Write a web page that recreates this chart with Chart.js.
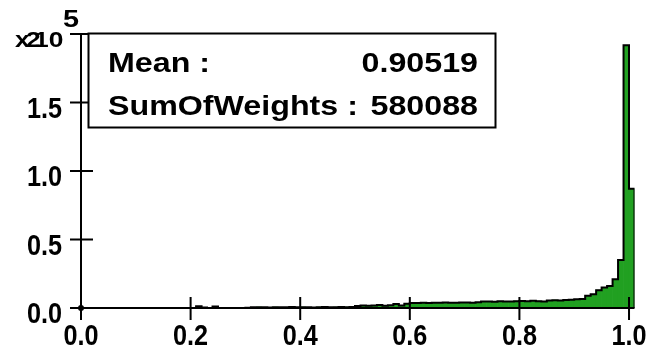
<!DOCTYPE html>
<html>
<head>
<meta charset="utf-8">
<title>Histogram</title>
<script src="https://cdn.jsdelivr.net/npm/chart.js@4.4.1/dist/chart.umd.min.js"></script>
<style>
  html, body { margin: 0; padding: 0; background: #fff; }
  canvas { display: block; }
</style>
</head>
<body>
<canvas id="hist" width="650" height="359"></canvas>
<script>
// binning: 101 bins of 0.01 starting at 0.00
const X_MIN = 0.0;
const X_MAX = 1.01;
const BIN_WIDTH = 0.01;

// bin contents, in bin order
const counts = [
  0, 0, 0, 0, 0, 0, 0, 0, 0, 0,
  0, 0, 0, 0, 0, 0, 0, 0, 0, 0,
  0, 1200, 300, 0, 1100, 0, 0, 0, 0, 0,
  200, 500, 600, 500, 400, 600, 500, 500, 700, 500,
  600, 500, 400, 600, 700, 500, 600, 700, 600, 800,
  1500, 1800, 1600, 1900, 2100, 1700, 2000, 2900, 1900, 3100,
  3700, 3600, 3800, 3700, 3900, 3800, 4000, 3900, 3800, 4100,
  4000, 3900, 4200, 4700, 4800, 4600, 4900, 4800, 4700, 5000,
  5100, 4900, 5300, 5000, 4800, 5400, 5700, 5500, 5900, 6100,
  6400, 6500, 9000, 10000, 13000, 15000, 16000, 21000, 35000, 191700,
  87000
];

const xTicks = [0.0, 0.2, 0.4, 0.6, 0.8, 1.0];
const yTicks = [0, 50000, 100000, 150000, 200000];
const Y_MAX = 200000;

const statLabels = ['Mean :', 'SumOfWeights :'];
const statValues = ['0.90519', '580088'];

const FILL = '#21a021';
const FONT = '"Liberation Sans", Arial, sans-serif';

// bars sit on bin centres, the outline steps at bin edges
const barData = counts.map((c, i) => ({ x: X_MIN + (i + 0.5) * BIN_WIDTH, y: c }));
const outline = counts.map((c, i) => ({ x: X_MIN + i * BIN_WIDTH, y: c }));
outline.push({ x: X_MAX, y: 0 });

// text squeezed or stretched sideways
function drawText(ctx, str, x, y, align, sx) {
  ctx.save();
  ctx.translate(x, y);
  ctx.scale(sx, 1);
  ctx.textAlign = align;
  ctx.fillText(str, 0, 0);
  ctx.restore();
}

// ROOT-style frame: ticks cross the axis lines, labels drawn by hand
const axesPlugin = {
  id: 'axes',
  afterDatasetsDraw(chart) {
    const { ctx, chartArea, scales: { x, y } } = chart;
    const x0 = x.getPixelForValue(X_MIN);
    const y0 = y.getPixelForValue(0);
    ctx.save();
    ctx.strokeStyle = '#000';
    ctx.lineWidth = 2;
    ctx.beginPath();
    ctx.moveTo(x0, chartArea.top);
    ctx.lineTo(x0, y0 + 12);
    ctx.moveTo(x0, y0);
    ctx.lineTo(chartArea.right, y0);
    yTicks.forEach(v => {
      const py = y.getPixelForValue(v);
      ctx.moveTo(x0 - 11, py);
      ctx.lineTo(x0 + 12, py);
    });
    xTicks.forEach(v => {
      if (v === X_MIN) return;
      const px = x.getPixelForValue(v);
      ctx.moveTo(px, y0 - 11);
      ctx.lineTo(px, y0 + 12);
    });
    ctx.stroke();
    ctx.fillStyle = '#000';
    ctx.beginPath();
    ctx.arc(x0, y0, 3, 0, Math.PI * 2);
    ctx.fill();

    // tick labels
    ctx.font = 'bold 29px ' + FONT;
    ctx.textBaseline = 'alphabetic';
    yTicks.forEach(v => {
      if (v === Y_MAX) return;
      drawText(ctx, (v / 100000).toFixed(1), 62, y.getPixelForValue(v) + 15, 'right', 0.87);
    });
    xTicks.forEach(v => {
      drawText(ctx, v.toFixed(1), x.getPixelForValue(v), 345, 'center', 0.87);
    });
    ctx.restore();
  },
  afterDraw(chart) {
    const { ctx } = chart;
    ctx.save();
    ctx.fillStyle = '#000';
    ctx.textBaseline = 'alphabetic';

    // exponent label
    ctx.font = 'bold 22px ' + FONT;
    drawText(ctx, 'x', 15, 47, 'left', 1.2);
    drawText(ctx, '2', 26, 47, 'left', 1.2);
    drawText(ctx, '10', 34, 47, 'left', 1.2);
    ctx.font = 'bold 24px ' + FONT;
    drawText(ctx, '5', 63, 27, 'left', 1.2);

    // statistics box
    const bx = 88.5, by = 33.5, bw = 407, bh = 94;
    ctx.fillStyle = '#fff';
    ctx.fillRect(bx, by, bw, bh);
    ctx.strokeStyle = '#000';
    ctx.lineWidth = 2;
    ctx.strokeRect(bx, by, bw, bh);
    ctx.fillStyle = '#000';
    ctx.font = 'bold 28px ' + FONT;
    [72, 115].forEach((base, i) => {
      drawText(ctx, statLabels[i], 108, base, 'left', 1.15);
      drawText(ctx, statValues[i], 478, base, 'right', 1.15);
    });
    ctx.restore();
  }
};

new Chart(document.getElementById('hist'), {
  data: {
    datasets: [
      {
        type: 'line',
        data: outline,
        borderColor: '#000',
        borderWidth: 2,
        stepped: 'before',
        pointRadius: 0,
        fill: false,
        order: 0
      },
      {
        type: 'bar',
        data: barData,
        backgroundColor: FILL,
        borderWidth: 0,
        barPercentage: 1,
        categoryPercentage: 1,
        order: 1
      }
    ]
  },
  options: {
    responsive: false,
    animation: false,
    layout: { padding: { top: 34, right: 15.5, left: 81, bottom: 51 } },
    plugins: { legend: { display: false }, tooltip: { enabled: false } },
    scales: {
      x: { type: 'linear', display: false, offset: false, min: X_MIN, max: X_MAX },
      y: { type: 'linear', display: false, min: 0, max: Y_MAX }
    }
  },
  plugins: [axesPlugin]
});
</script>
</body>
</html>
